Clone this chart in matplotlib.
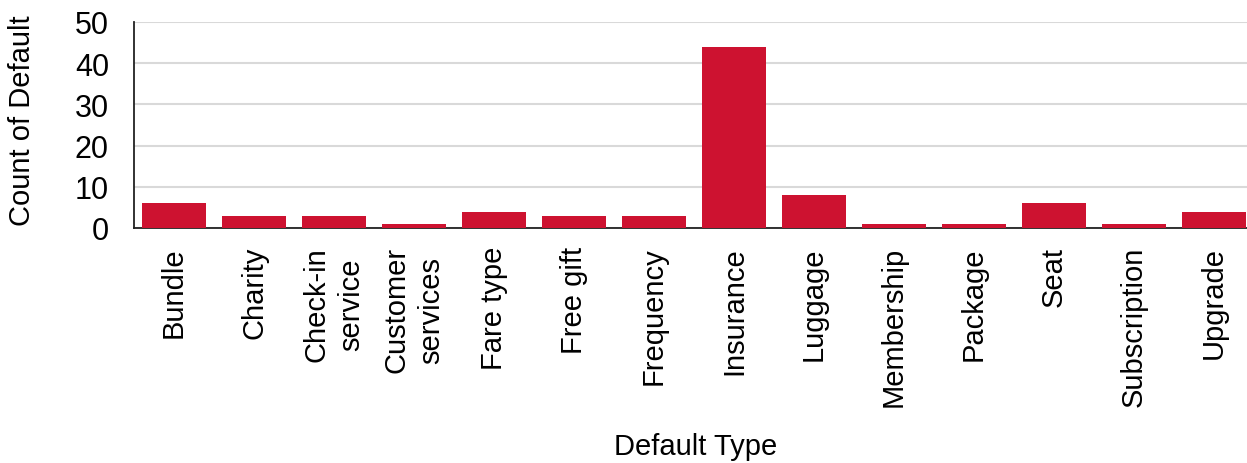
import numpy as np
import matplotlib.pyplot as plt

plt.rcParams['font.family'] = ['Liberation Sans', 'DejaVu Sans']

# counts per default type
categories = ['Bundle', 'Charity', 'Check-in\nservice', 'Customer\nservices',
              'Fare type', 'Free gift', 'Frequency', 'Insurance', 'Luggage',
              'Membership', 'Package', 'Seat', 'Subscription', 'Upgrade']
counts = [6, 3, 3, 1, 4, 3, 3, 44, 8, 1, 1, 6, 1, 4]

fig = plt.figure(figsize=(12.47, 4.64), dpi=100)
ax = fig.add_axes([134/1247, 1-229/464, 1120/1247, (229-23)/464])

x = np.arange(len(categories))
ax.bar(x, counts, width=0.8, color='#CD1230', zorder=3)

ax.set_xlim(-0.5, len(categories)-0.5)
ax.set_ylim(0, 50)
ax.set_yticks([0, 10, 20, 30, 40, 50])
ax.set_xticks(x)
ax.set_xticklabels(categories, rotation=90, fontsize=21, ha='center', va='top',
                   linespacing=1.3)
ax.tick_params(axis='y', labelsize=22, length=0, pad=18)
ax.tick_params(axis='x', length=0, pad=13)
ax.grid(axis='y', color='#d9d9d9', linewidth=1.5, zorder=0)

for s in ['top', 'right']:
    ax.spines[s].set_visible(False)
ax.spines['left'].set_color('#222222')
ax.spines['bottom'].set_color('#222222')
ax.spines['left'].set_linewidth(1.3)
ax.spines['bottom'].set_linewidth(1.3)

fig.text(22/1247, 1-121/464, 'Count of Default', fontsize=21, rotation=90,
         ha='center', va='center')
fig.text(696/1247, 3/464, 'Default Type', fontsize=21, ha='center', va='bottom')

plt.savefig('out.png', dpi=100)
